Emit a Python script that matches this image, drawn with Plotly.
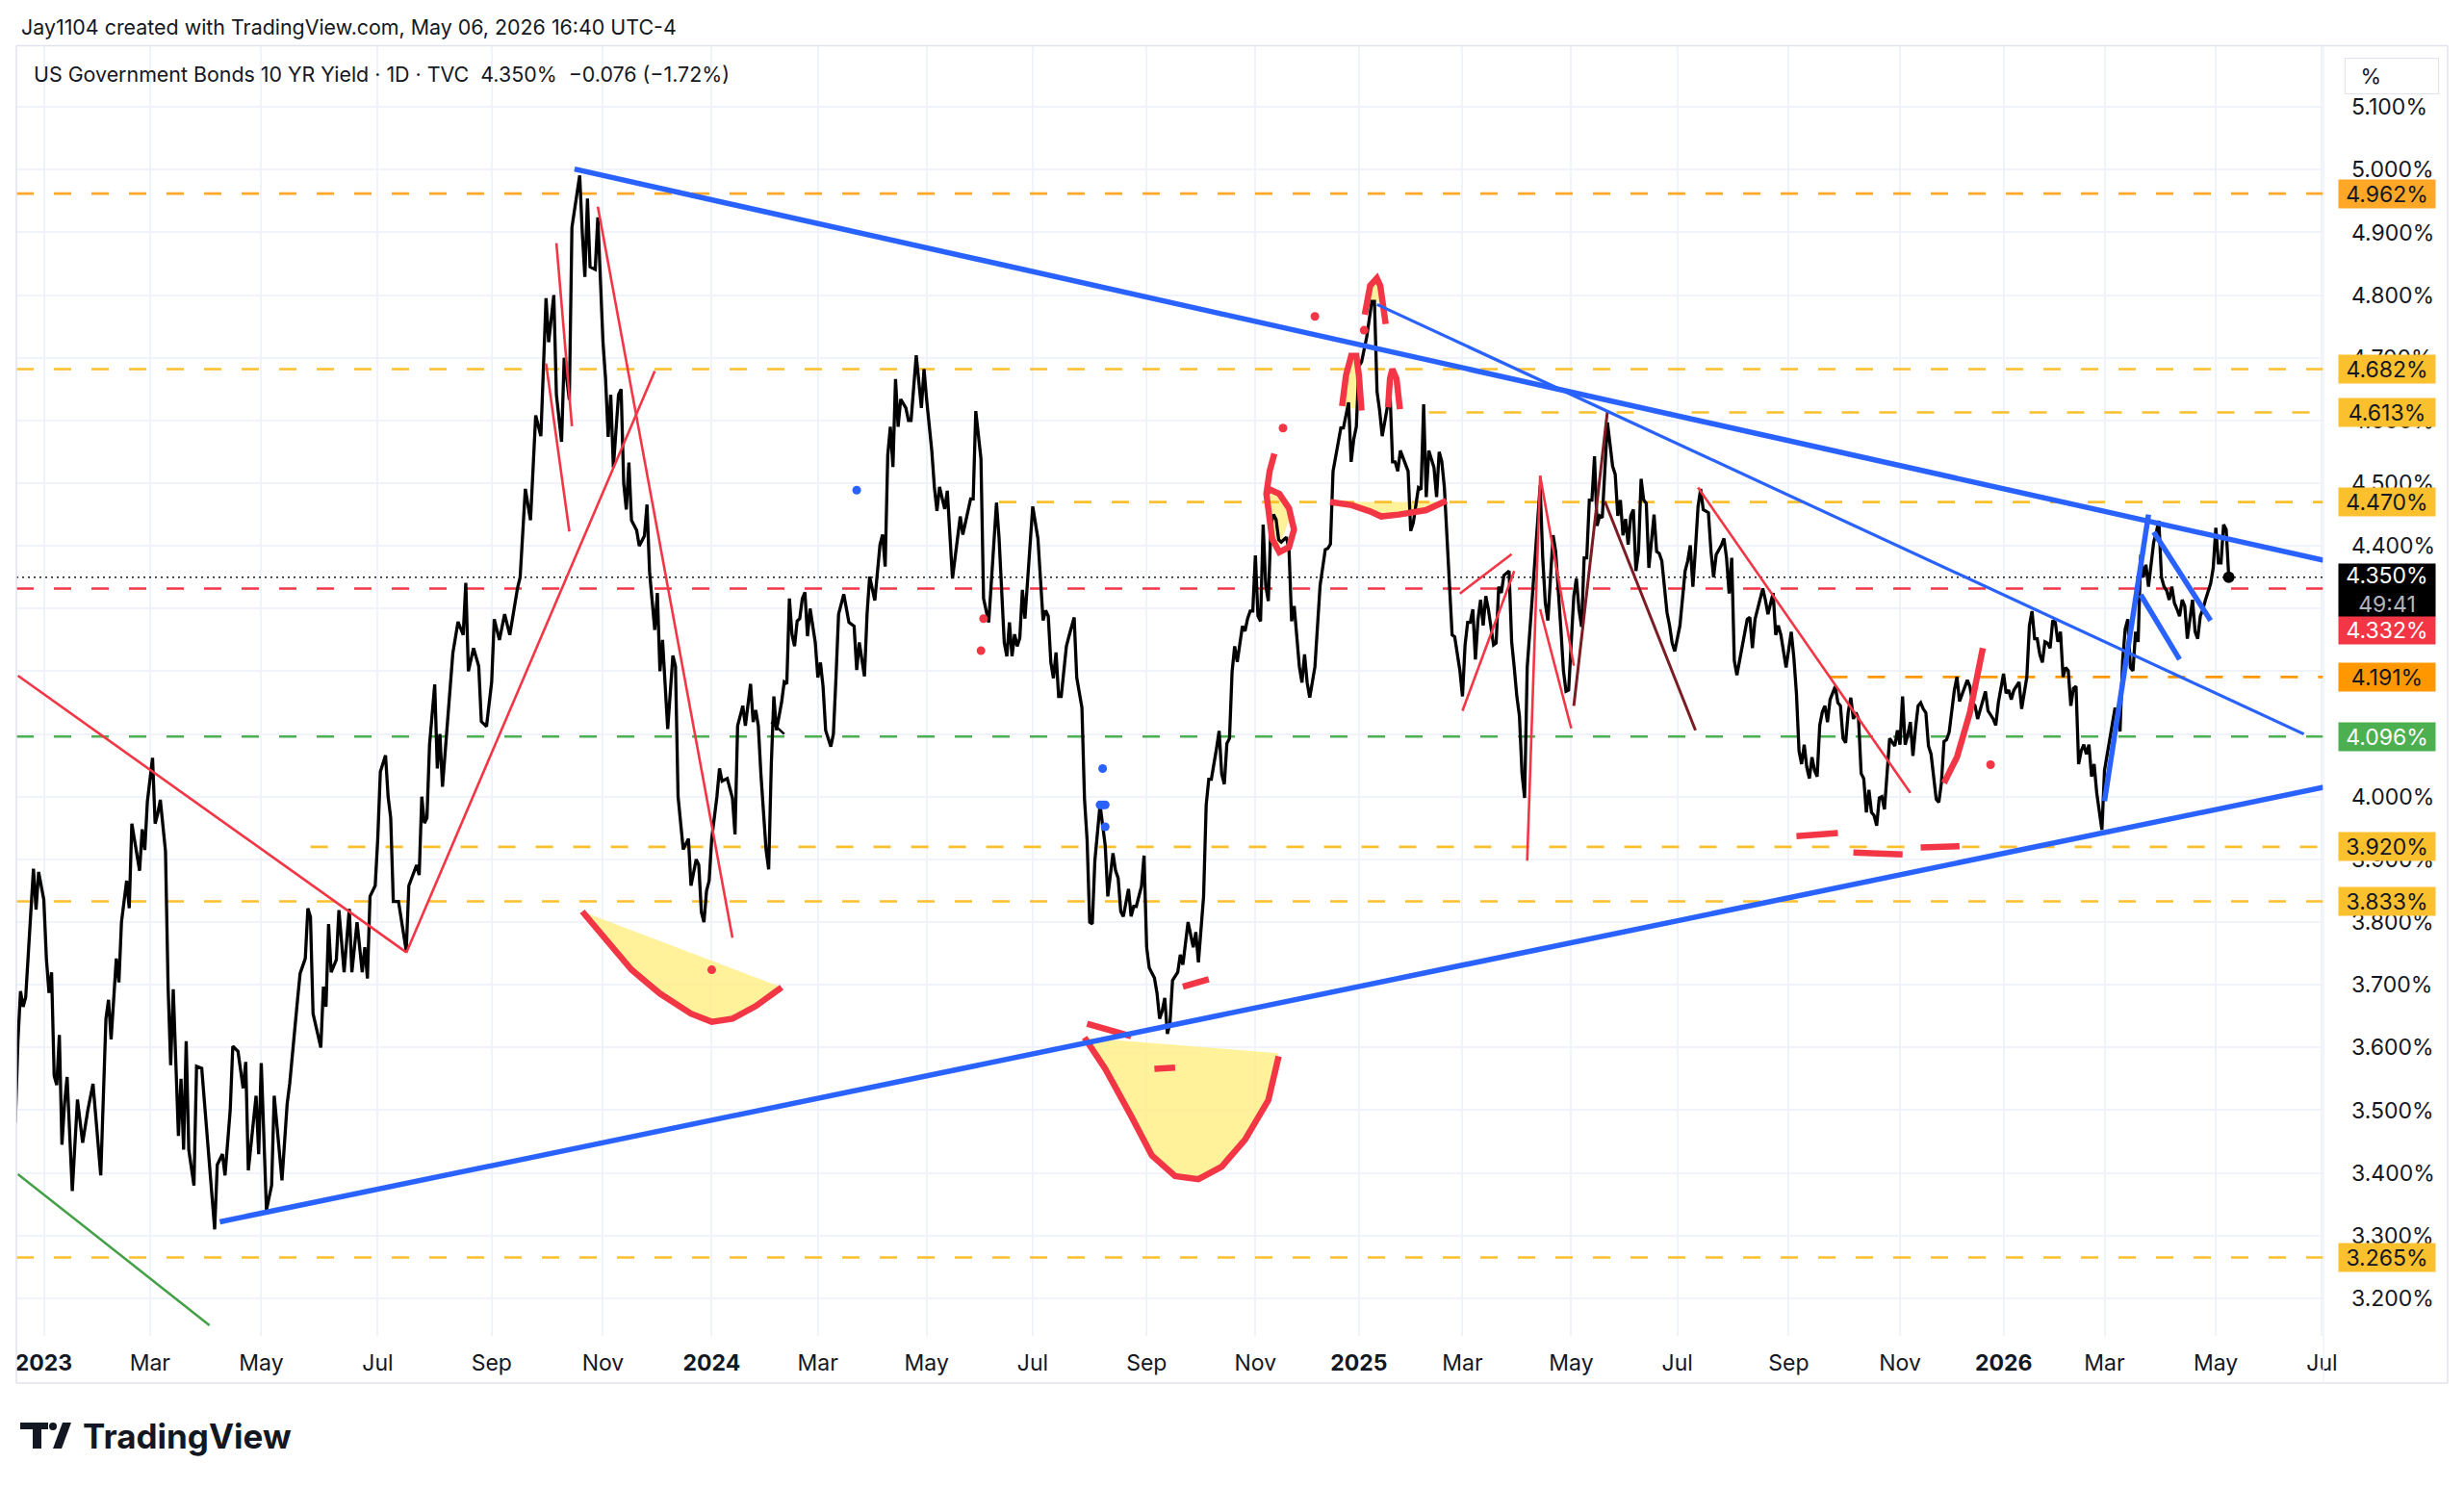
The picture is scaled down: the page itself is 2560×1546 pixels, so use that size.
import datetime as dt
import plotly.graph_objects as go

# ---------------- series: US 10Y yield, daily close ----------------
dates_a = ["2022-12-15","2022-12-16","2022-12-19","2022-12-20","2022-12-21","2022-12-27","2022-12-28","2022-12-29",
 "2023-01-02","2023-01-03","2023-01-04","2023-01-05","2023-01-07","2023-01-08","2023-01-09","2023-01-12","2023-01-13",
 "2023-01-16","2023-01-18","2023-01-21","2023-01-24","2023-01-26","2023-01-29","2023-02-02","2023-02-05","2023-02-06",
 "2023-02-07","2023-02-09","2023-02-10","2023-02-12","2023-02-14","2023-02-16","2023-02-17","2023-02-20","2023-02-23",
 "2023-02-24","2023-02-26","2023-02-28","2023-03-02","2023-03-04","2023-03-05","2023-03-07","2023-03-09","2023-03-11",
 "2023-03-12","2023-03-13","2023-03-14","2023-03-16","2023-03-17","2023-03-18","2023-03-20","2023-03-22","2023-03-24",
 "2023-03-27","2023-03-29","2023-04-02","2023-04-05","2023-04-06","2023-04-09","2023-04-11","2023-04-13","2023-04-15",
 "2023-04-18","2023-04-20","2023-04-21","2023-04-24","2023-04-27","2023-04-28","2023-04-30","2023-05-03","2023-05-05",
 "2023-05-08","2023-05-11","2023-05-14","2023-05-16","2023-05-19","2023-05-22","2023-05-24","2023-05-25","2023-05-27",
 "2023-05-29","2023-06-01","2023-06-02","2023-06-05","2023-06-06","2023-06-07","2023-06-10","2023-06-12","2023-06-14",
 "2023-06-17","2023-06-18","2023-06-21","2023-06-23","2023-06-26","2023-06-27","2023-06-28"]
yield_a = [3.48,3.61,3.69,3.665,3.68,3.885,3.82,3.88,
 3.836,3.742,3.687,3.72,3.555,3.54,3.62,3.445,3.51,
 3.553,3.371,3.517,3.448,3.50,3.542,3.396,3.646,3.676,
 3.613,3.676,3.742,3.704,3.80,3.866,3.822,3.957,3.882,
 3.948,3.915,3.992,4.062,3.957,3.973,3.995,3.913,3.698,
 3.572,3.693,3.577,3.459,3.55,3.437,3.61,3.437,3.38,
 3.57,3.567,3.418,3.31,3.413,3.43,3.396,3.50,3.602,
 3.594,3.535,3.577,3.404,3.523,3.43,3.575,3.341,3.38,
 3.523,3.388,3.51,3.543,3.676,3.718,3.742,3.822,3.808,
 3.654,3.60,3.697,3.665,3.797,3.72,3.74,3.819,3.72,
 3.821,3.72,3.80,3.72,3.76,3.71,3.841]

dates_b = ["2023-07-01","2023-07-02","2023-07-04","2023-07-06","2023-07-07","2023-07-10","2023-07-11","2023-07-13",
 "2023-07-15","2023-07-18","2023-07-19","2023-07-21","2023-07-23","2023-07-25","2023-07-26","2023-07-27","2023-07-29",
 "2023-07-31","2023-08-02","2023-08-03","2023-08-05","2023-08-07","2023-08-10","2023-08-12","2023-08-15","2023-08-17",
 "2023-08-19","2023-08-21","2023-08-23","2023-08-26","2023-08-28","2023-08-30","2023-09-01","2023-09-04","2023-09-06",
 "2023-09-09","2023-09-12","2023-09-14","2023-09-16","2023-09-17","2023-09-19","2023-09-20","2023-09-22","2023-09-24",
 "2023-09-26","2023-09-28","2023-09-30","2023-10-02","2023-10-03","2023-10-05","2023-10-07","2023-10-10","2023-10-11",
 "2023-10-13","2023-10-16","2023-10-19","2023-10-20","2023-10-22","2023-10-24","2023-10-25","2023-10-27","2023-10-30",
 "2023-11-01","2023-11-02","2023-11-03","2023-11-05","2023-11-07","2023-11-09","2023-11-11","2023-11-13","2023-11-14",
 "2023-11-15","2023-11-16","2023-11-19","2023-11-21","2023-11-23","2023-11-25","2023-11-27","2023-11-29","2023-11-30",
 "2023-12-01","2023-12-03","2023-12-06","2023-12-08","2023-12-11","2023-12-12","2023-12-14","2023-12-17","2023-12-19",
 "2023-12-21","2023-12-23","2023-12-25","2023-12-26","2023-12-28","2023-12-29","2024-01-02","2024-01-04","2024-01-06",
 "2024-01-08","2024-01-10"]
yield_b = [3.858,3.933,4.04,4.066,4.0,3.966,3.833,3.833,
 3.808,3.754,3.858,3.879,3.891,3.875,4.0,3.958,3.966,
 4.083,4.179,4.045,4.1,4.016,4.166,4.229,4.279,4.258,
 4.341,4.2,4.237,4.208,4.12,4.112,4.183,4.283,4.25,
 4.291,4.258,4.308,4.333,4.35,4.425,4.491,4.441,4.533,
 4.608,4.575,4.683,4.795,4.725,4.80,4.641,4.566,4.70,
 4.633,4.908,4.991,4.9,4.829,4.954,4.845,4.841,4.924,
 4.725,4.666,4.574,4.641,4.525,4.641,4.65,4.5,4.458,
 4.533,4.441,4.425,4.4,4.416,4.466,4.358,4.266,4.325,
 4.2,4.25,4.108,4.225,4.208,4.0,3.916,3.933,3.858,
 3.9,3.891,3.816,3.80,3.85,3.866,3.933,4.0,4.045,
 4.025,4.029]

dates_c = ["2024-01-12","2024-01-14","2024-01-17","2024-01-19","2024-01-21","2024-01-24","2024-01-25","2024-01-27",
 "2024-01-28","2024-01-30","2024-02-01","2024-02-02","2024-02-04","2024-02-05","2024-02-07","2024-02-09","2024-02-11",
 "2024-02-12","2024-02-14","2024-02-15","2024-02-17","2024-02-18","2024-02-20","2024-02-21","2024-02-23","2024-02-24",
 "2024-02-26","2024-02-29","2024-03-01","2024-03-02","2024-03-04","2024-03-05","2024-03-08","2024-03-10","2024-03-12",
 "2024-03-13","2024-03-16","2024-03-19","2024-03-21","2024-03-22","2024-03-24","2024-03-27","2024-03-30","2024-04-01",
 "2024-04-03","2024-04-05","2024-04-06","2024-04-08","2024-04-09","2024-04-11","2024-04-12","2024-04-14","2024-04-15",
 "2024-04-17","2024-04-19","2024-04-21","2024-04-22","2024-04-25","2024-04-28","2024-04-29","2024-05-01","2024-05-03",
 "2024-05-05","2024-05-07","2024-05-08","2024-05-10","2024-05-13","2024-05-15","2024-05-20","2024-05-21","2024-05-24",
 "2024-05-26","2024-05-28","2024-05-31","2024-06-03","2024-06-05","2024-06-09","2024-06-11","2024-06-13","2024-06-14",
 "2024-06-15","2024-06-17","2024-06-19","2024-06-21","2024-06-24","2024-06-25","2024-06-26","2024-06-28","2024-07-01",
 "2024-07-03","2024-07-04","2024-07-05","2024-07-07","2024-07-09","2024-07-11","2024-07-12","2024-07-14","2024-07-16",
 "2024-07-17","2024-07-19","2024-07-22","2024-07-24"]
yield_c = [3.998,3.94,4.113,4.145,4.113,4.18,4.119,4.138,
 4.113,4.036,3.915,3.884,4.05,4.16,4.106,4.151,4.183,
 4.18,4.316,4.259,4.24,4.28,4.284,4.316,4.326,4.256,
 4.30,4.246,4.19,4.214,4.176,4.106,4.08,4.10,4.19,
 4.291,4.323,4.278,4.272,4.202,4.246,4.192,4.291,4.351,
 4.313,4.402,4.418,4.367,4.545,4.59,4.526,4.666,4.59,
 4.634,4.62,4.60,4.60,4.704,4.62,4.682,4.634,4.552,
 4.494,4.456,4.494,4.459,4.488,4.348,4.447,4.418,4.475,
 4.475,4.615,4.539,4.316,4.278,4.469,4.412,4.246,4.224,
 4.278,4.224,4.259,4.24,4.253,4.33,4.284,4.408,4.463,
 4.412,4.335,4.281,4.297,4.288,4.214,4.189,4.23,4.16,
 4.16,4.24,4.256,4.286]

dates_d = ["2024-07-25","2024-07-28","2024-07-30","2024-07-31","2024-08-01","2024-08-03","2024-08-04","2024-08-07",
 "2024-08-09","2024-08-12","2024-08-14","2024-08-15","2024-08-17","2024-08-18","2024-08-20","2024-08-22","2024-08-23",
 "2024-08-25","2024-08-27","2024-08-29","2024-08-31","2024-09-01","2024-09-04","2024-09-06","2024-09-07","2024-09-08",
 "2024-09-10","2024-09-12","2024-09-14","2024-09-16","2024-09-17","2024-09-19","2024-09-21","2024-09-23","2024-09-25",
 "2024-09-27","2024-09-29","2024-10-01","2024-10-03","2024-10-04","2024-10-06","2024-10-08","2024-10-10","2024-10-11",
 "2024-10-13","2024-10-15","2024-10-17","2024-10-19","2024-10-20","2024-10-22","2024-10-23","2024-10-25","2024-10-27",
 "2024-10-28","2024-10-29","2024-10-30","2024-11-01","2024-11-03","2024-11-04","2024-11-05","2024-11-07","2024-11-08",
 "2024-11-10","2024-11-11","2024-11-13","2024-11-16","2024-11-18","2024-11-20","2024-11-21","2024-11-23","2024-11-24",
 "2024-11-27","2024-11-28","2024-11-30","2024-12-02","2024-12-04","2024-12-06","2024-12-09","2024-12-10","2024-12-12",
 "2024-12-14","2024-12-16","2024-12-17","2024-12-19","2024-12-21","2024-12-22","2024-12-25","2024-12-27","2024-12-29",
 "2024-12-31","2025-01-02","2025-01-04","2025-01-07","2025-01-09","2025-01-11","2025-01-12","2025-01-13","2025-01-15",
 "2025-01-17","2025-01-19","2025-01-21","2025-01-23","2025-01-25","2025-01-27","2025-01-30","2025-02-01","2025-02-02",
 "2025-02-05","2025-02-06","2025-02-07","2025-02-10","2025-02-11"]
yield_d = [4.19,4.142,3.996,3.931,3.80,3.797,3.898,3.987,
 3.922,3.841,3.91,3.882,3.87,3.817,3.809,3.853,3.809,
 3.825,3.825,3.857,3.906,3.76,3.727,3.711,3.687,3.646,
 3.658,3.679,3.622,3.638,3.707,3.72,3.748,3.732,3.80,
 3.76,3.784,3.736,3.841,3.987,4.028,4.028,4.077,4.105,
 4.036,4.02,4.085,4.093,4.199,4.24,4.215,4.272,4.264,
 4.284,4.296,4.296,4.385,4.288,4.28,4.434,4.337,4.312,
 4.434,4.45,4.442,4.41,4.406,4.414,4.394,4.28,4.304,
 4.207,4.182,4.227,4.182,4.158,4.207,4.272,4.337,4.394,
 4.396,4.403,4.519,4.565,4.588,4.588,4.629,4.534,4.57,
 4.59,4.687,4.693,4.733,4.79,4.79,4.646,4.616,4.575,
 4.621,4.646,4.534,4.534,4.519,4.552,4.519,4.424,4.437,
 4.493,4.49,4.626,4.478,4.552]

dates_e = ["2025-02-13","2025-02-14","2025-02-15","2025-02-17","2025-02-19","2025-02-21","2025-02-22","2025-02-24",
 "2025-02-26","2025-02-28","2025-03-01","2025-03-02","2025-03-04","2025-03-05","2025-03-06","2025-03-07","2025-03-09",
 "2025-03-10","2025-03-12","2025-03-13","2025-03-15","2025-03-17","2025-03-19","2025-03-20","2025-03-22","2025-03-23",
 "2025-03-25","2025-03-27","2025-03-28","2025-03-30","2025-03-31","2025-04-02","2025-04-03","2025-04-05","2025-04-07",
 "2025-04-09","2025-04-11","2025-04-12","2025-04-14","2025-04-16","2025-04-17","2025-04-19","2025-04-20","2025-04-22",
 "2025-04-24","2025-04-26","2025-04-27","2025-04-29","2025-04-30","2025-05-01","2025-05-02","2025-05-04","2025-05-05",
 "2025-05-07","2025-05-08","2025-05-09","2025-05-10","2025-05-12","2025-05-14","2025-05-15","2025-05-17","2025-05-18",
 "2025-05-19","2025-05-21","2025-05-23","2025-05-24","2025-05-25","2025-05-27","2025-05-28","2025-05-29","2025-05-31",
 "2025-06-01","2025-06-02","2025-06-04","2025-06-05","2025-06-06","2025-06-08","2025-06-10","2025-06-11","2025-06-13",
 "2025-06-15","2025-06-17","2025-06-18","2025-06-20","2025-06-22","2025-06-24","2025-06-26","2025-06-27","2025-06-29",
 "2025-07-02","2025-07-04","2025-07-05","2025-07-07","2025-07-09","2025-07-11","2025-07-13","2025-07-15","2025-07-16",
 "2025-07-18","2025-07-20","2025-07-21","2025-07-23","2025-07-25","2025-07-27","2025-07-28","2025-07-29","2025-07-31",
 "2025-08-01","2025-08-03","2025-08-05","2025-08-07","2025-08-09","2025-08-11","2025-08-12","2025-08-13","2025-08-15",
 "2025-08-17","2025-08-19","2025-08-20","2025-08-22","2025-08-23","2025-08-25","2025-08-27","2025-08-29","2025-08-31",
 "2025-09-01","2025-09-02","2025-09-04","2025-09-05","2025-09-07","2025-09-08","2025-09-10","2025-09-11","2025-09-13",
 "2025-09-14","2025-09-16","2025-09-17","2025-09-19","2025-09-21","2025-09-22","2025-09-24","2025-09-26","2025-09-28",
 "2025-09-29","2025-10-01","2025-10-02","2025-10-04","2025-10-05","2025-10-06"]
yield_e = [4.525,4.478,4.55,4.535,4.494,4.412,4.35,4.258,
 4.255,4.201,4.16,4.242,4.278,4.278,4.299,4.219,4.283,
 4.314,4.273,4.32,4.299,4.268,4.242,4.245,4.335,4.325,
 4.353,4.36,4.247,4.206,4.16,4.129,4.037,3.998,4.206,
 4.32,4.427,4.496,4.381,4.309,4.281,4.36,4.417,4.391,
 4.32,4.268,4.201,4.168,4.17,4.258,4.32,4.348,4.299,
 4.271,4.381,4.381,4.473,4.473,4.543,4.432,4.448,4.445,
 4.52,4.597,4.527,4.514,4.448,4.473,4.417,4.443,4.402,
 4.448,4.458,4.36,4.391,4.507,4.473,4.468,4.365,4.412,
 4.45,4.391,4.388,4.376,4.33,4.294,4.273,4.245,4.232,
 4.273,4.36,4.376,4.401,4.335,4.396,4.463,4.491,4.458,
 4.453,4.391,4.35,4.386,4.401,4.412,4.381,4.324,4.381,
 4.217,4.194,4.217,4.258,4.283,4.286,4.237,4.283,4.314,
 4.332,4.314,4.291,4.325,4.258,4.273,4.258,4.206,4.237,
 4.263,4.222,4.165,4.073,4.052,4.083,4.047,4.029,4.063,
 4.042,4.032,4.114,4.135,4.145,4.119,4.155,4.176,4.15,
 4.145,4.093,4.086,4.135,4.158,4.124]

dates_f = ["2025-10-07","2025-10-09","2025-10-10","2025-10-12","2025-10-13","2025-10-14","2025-10-16","2025-10-17",
 "2025-10-19","2025-10-21","2025-10-23","2025-10-24","2025-10-26","2025-10-28","2025-10-30","2025-10-31","2025-11-02",
 "2025-11-03","2025-11-05","2025-11-06","2025-11-07","2025-11-09","2025-11-10","2025-11-12","2025-11-14","2025-11-15",
 "2025-11-17","2025-11-18","2025-11-20","2025-11-21","2025-11-24","2025-11-25","2025-11-26","2025-11-28","2025-11-30",
 "2025-12-01","2025-12-03","2025-12-04","2025-12-06","2025-12-08","2025-12-11","2025-12-13","2025-12-14","2025-12-16",
 "2025-12-17","2025-12-19","2025-12-21","2025-12-23","2025-12-25","2025-12-27","2025-12-28","2026-01-01","2026-01-02",
 "2026-01-03","2026-01-05","2026-01-07","2026-01-09","2026-01-11","2026-01-12","2026-01-13","2026-01-15","2026-01-16",
 "2026-01-18","2026-01-19","2026-01-21","2026-01-22","2026-01-23","2026-01-25","2026-01-27","2026-01-29","2026-01-30",
 "2026-01-31","2026-02-02","2026-02-03","2026-02-05","2026-02-06","2026-02-07","2026-02-09","2026-02-10","2026-02-12",
 "2026-02-13","2026-02-15","2026-02-16","2026-02-18","2026-02-19","2026-02-21","2026-02-23","2026-02-25","2026-02-27",
 "2026-03-02","2026-03-04","2026-03-06","2026-03-08","2026-03-09","2026-03-11","2026-03-12","2026-03-14","2026-03-15",
 "2026-03-17","2026-03-18","2026-03-19","2026-03-21","2026-03-23","2026-03-24","2026-03-25","2026-03-27","2026-03-28",
 "2026-03-29","2026-03-31","2026-04-01","2026-04-02","2026-04-04","2026-04-05","2026-04-06","2026-04-08","2026-04-10",
 "2026-04-11","2026-04-12","2026-04-14","2026-04-15","2026-04-17","2026-04-18","2026-04-19","2026-04-21","2026-04-22",
 "2026-04-24","2026-04-25","2026-04-27","2026-04-28","2026-04-29","2026-04-30","2026-05-01","2026-05-04","2026-05-05",
 "2026-05-06"]
yield_f = [4.134,4.124,4.037,4.029,3.975,4.011,3.975,3.970,
 3.954,3.998,4.0,3.98,4.042,4.093,4.081,4.106,4.083,
 4.16,4.083,4.098,4.119,4.065,4.109,4.145,4.15,4.14,
 4.134,4.081,4.068,4.032,3.996,3.991,4.022,4.088,4.091,
 4.103,4.14,4.17,4.191,4.152,4.186,4.176,4.15,4.145,
 4.124,4.155,4.168,4.137,4.124,4.114,4.15,4.196,4.165,
 4.17,4.155,4.17,4.176,4.183,4.14,4.165,4.191,4.273,
 4.296,4.252,4.252,4.227,4.214,4.247,4.245,4.237,4.281,
 4.278,4.247,4.263,4.191,4.206,4.201,4.145,4.173,4.176,
 4.052,4.073,4.083,4.068,4.083,4.032,4.052,4.006,3.947,
 4.042,4.093,4.14,4.14,4.104,4.217,4.268,4.283,4.206,
 4.201,4.263,4.247,4.386,4.35,4.37,4.335,4.406,4.422,
 4.44,4.35,4.335,4.329,4.314,4.335,4.309,4.299,4.288,
 4.314,4.304,4.252,4.283,4.314,4.263,4.252,4.288,4.299,
 4.314,4.327,4.34,4.365,4.429,4.373,4.373,4.434,4.426,
 4.350]

# days without a bar in the feed (the chart's time scale skips them)
no_bar_days = ["2022-12-26","2023-01-02","2023-12-25",
 "2024-01-01","2024-01-15","2024-02-19","2024-03-29","2024-05-27","2024-06-19","2024-07-04","2024-09-02",
 "2024-10-14","2024-11-11","2024-11-28","2024-12-25",
 "2025-01-01","2025-01-20","2025-02-17","2025-04-18","2025-05-26","2025-06-19","2025-07-04","2025-09-01",
 "2025-10-13","2025-11-11","2025-11-27","2025-12-25",
 "2026-01-01","2026-01-19","2026-02-16","2026-04-03","2026-05-25","2026-06-19"]

# ---------------- axis ticks (first bar of every second month) ----------------
x_tick_dates = ["2023-01-03","2023-03-01","2023-05-01","2023-07-03","2023-09-01","2023-11-01",
                "2024-01-02","2024-03-01","2024-05-01","2024-07-01","2024-09-03","2024-11-01",
                "2025-01-02","2025-03-03","2025-05-01","2025-07-01","2025-09-02","2025-11-03",
                "2026-01-02","2026-03-02","2026-05-01","2026-07-01"]
x_tick_labels = ["<b>2023</b>","Mar","May","Jul","Sep","Nov","<b>2024</b>","Mar","May","Jul","Sep","Nov",
                 "<b>2025</b>","Mar","May","Jul","Sep","Nov","<b>2026</b>","Mar","May","Jul"]
y_tick_values = [3.2,3.3,3.4,3.5,3.6,3.7,3.8,3.9,4.0,4.1,4.2,4.3,4.4,4.5,4.6,4.7,4.8,4.9,5.0,5.1]
y_tick_labels = ["" if v in (4.1, 4.2, 4.3) else "%.3f%%" % v for v in y_tick_values]

X_START, X_END = "2022-12-15 09:30", "2026-07-01 14:00"
Y_MIN, Y_MAX = 3.140, 5.197

# ---------------- horizontal levels ----------------
level_values = [4.962, 4.682, 4.613, 4.470, 4.332, 4.191, 4.096, 3.920, 3.833, 3.265]
level_starts = [X_START, X_START, "2025-02-11", "2024-06-11", X_START, "2025-09-24", X_START, "2023-05-26", X_START, X_START]
level_colors = ["#FFA726", "#FBC02D", "#FBC02D", "#FBC02D", "#F23645", "#FF9800", "#4CAF50", "#FBC02D", "#FBC02D", "#FBC02D"]
level_text_colors = ["#131722"]*4 + ["#FFFFFF", "#131722", "#FFFFFF"] + ["#131722"]*3
last_price = 4.350

# ---------------- drawings (date, value) ----------------
blue_thick = [
    [("2023-10-17", 5.001), (X_END, 4.377)],
    [("2023-04-07", 3.322), (X_END, 4.015)],
    [("2026-03-02", 3.993), ("2026-03-25", 4.450)],
    [("2026-03-20", 4.322), ("2026-04-13", 4.219)],
    [("2026-03-27", 4.422), ("2026-04-29", 4.281)],
]
blue_thin = [[("2025-01-13", 4.785), ("2026-06-22", 4.100)]]
red_thin = [
    [("2022-12-16", 4.193), ("2023-07-18", 3.752)],
    [("2023-07-18", 3.751), ("2023-11-29", 4.679)],
    [("2023-10-06", 4.883), ("2023-10-16", 4.591)],
    [("2023-10-02", 4.691), ("2023-10-13", 4.423)],
    [("2023-10-30", 4.941), ("2024-01-12", 3.775)],
    [("2025-02-28", 4.324), ("2025-03-28", 4.387)],
    [("2025-03-03", 4.137), ("2025-03-31", 4.360)],
    [("2025-04-07", 3.898), ("2025-04-14", 4.512)],
    [("2025-04-14", 4.512), ("2025-05-02", 4.209)],
    [("2025-04-14", 4.299), ("2025-05-01", 4.109)],
    [("2025-07-14", 4.493), ("2025-11-07", 4.006)],
]
maroon_thin = [
    [("2025-05-02", 4.145), ("2025-05-21", 4.615)],
    [("2025-05-20", 4.471), ("2025-07-11", 4.106)],
]
green_thin = [[("2022-12-16", 3.398), ("2023-04-03", 3.157)]]
black_thin = [[("2024-02-05", 4.119), ("2024-02-12", 4.100)]]
red_thick = [
    [("2023-10-20", 3.817), ("2023-11-03", 3.767), ("2023-11-16", 3.724), ("2023-12-01", 3.686), ("2023-12-19", 3.654),
     ("2024-01-02", 3.641), ("2024-01-12", 3.646), ("2024-01-26", 3.666), ("2024-02-09", 3.696)],
    [("2024-07-30", 3.616), ("2024-08-09", 3.566), ("2024-08-23", 3.491), ("2024-09-05", 3.428), ("2024-09-18", 3.395),
     ("2024-10-01", 3.390), ("2024-10-15", 3.410), ("2024-10-28", 3.453), ("2024-11-08", 3.516), ("2024-11-15", 3.586)],
    [("2024-07-31", 3.638), ("2024-08-23", 3.618)],
    [("2024-09-06", 3.566), ("2024-09-18", 3.568)],
    [("2024-09-23", 3.697), ("2024-10-07", 3.709)],
    [("2024-11-13 08:00", 4.547), ("2024-11-08 12:00", 4.519), ("2024-11-07 06:00", 4.483), ("2024-11-08 06:00", 4.447),
     ("2024-11-11 12:00", 4.411), ("2024-11-15 06:00", 4.390), ("2024-11-21", 4.398), ("2024-11-22 22:00", 4.426),
     ("2024-11-21", 4.460), ("2024-11-15 06:00", 4.483), ("2024-11-08 14:00", 4.490), ("2024-11-07 03:00", 4.483)],
    [("2024-12-20 12:00", 4.623), ("2024-12-24", 4.672), ("2024-12-27", 4.703), ("2024-12-31", 4.703),
     ("2025-01-02", 4.672), ("2025-01-03", 4.616)],
    [("2025-01-06 06:00", 4.769), ("2025-01-08 08:00", 4.815), ("2025-01-10 22:00", 4.827), ("2025-01-14 06:00", 4.815),
     ("2025-01-16 08:00", 4.754)],
    [("2025-01-17 06:00", 4.621), ("2025-01-21", 4.667), ("2025-01-21 22:00", 4.682), ("2025-01-23 12:00", 4.667),
     ("2025-01-24 20:00", 4.618)],
    [("2024-12-13 20:00", 4.470), ("2024-12-27 06:00", 4.465), ("2025-01-08 08:00", 4.455), ("2025-01-14 14:00", 4.447),
     ("2025-01-24 10:00", 4.450), ("2025-02-07 22:00", 4.457), ("2025-02-20 20:00", 4.472)],
    [("2025-11-28", 4.022), ("2025-12-05", 4.063), ("2025-12-12", 4.134), ("2025-12-19", 4.237)],
    [("2025-09-05", 3.937), ("2025-09-29", 3.942)],
    [("2025-10-07", 3.911), ("2025-11-04", 3.908)],
    [("2025-11-14", 3.919), ("2025-12-08", 3.921)],
]
yellow_fills = [
    [("2023-10-20", 3.817), ("2023-11-03", 3.767), ("2023-11-16", 3.724), ("2023-12-01", 3.686), ("2023-12-19", 3.654),
     ("2024-01-02", 3.641), ("2024-01-12", 3.646), ("2024-01-26", 3.666), ("2024-02-09", 3.696)],
    [("2024-07-30", 3.616), ("2024-08-09", 3.566), ("2024-08-23", 3.491), ("2024-09-05", 3.428), ("2024-09-18", 3.395),
     ("2024-10-01", 3.390), ("2024-10-15", 3.410), ("2024-10-28", 3.453), ("2024-11-08", 3.516), ("2024-11-15", 3.591)],
    [("2024-11-07 06:00", 4.483), ("2024-11-08 06:00", 4.447), ("2024-11-11 12:00", 4.411), ("2024-11-15 06:00", 4.400),
     ("2024-11-21", 4.440), ("2024-11-21", 4.460), ("2024-11-15 06:00", 4.483), ("2024-11-08 14:00", 4.490)],
    [("2024-12-20 12:00", 4.623), ("2024-12-24", 4.672), ("2024-12-27", 4.703), ("2024-12-31", 4.703),
     ("2025-01-02", 4.672), ("2025-01-03", 4.616)],
    [("2025-01-07 06:00", 4.790), ("2025-01-08 08:00", 4.815), ("2025-01-10 22:00", 4.827), ("2025-01-14 06:00", 4.815),
     ("2025-01-15 12:00", 4.790)],
    [("2024-12-27 06:00", 4.470), ("2025-01-08 08:00", 4.455), ("2025-01-14 14:00", 4.447), ("2025-01-24 10:00", 4.450),
     ("2025-02-07 22:00", 4.457), ("2025-02-18", 4.470)],
]
red_dots = [("2024-05-31", 4.233), ("2024-06-03", 4.284), ("2024-11-18 16:00", 4.588), ("2024-12-06", 4.766),
            ("2025-01-06", 4.744), ("2025-12-24", 4.051), ("2024-01-02", 3.724)]
blue_dots = [("2024-03-22", 4.489), ("2024-08-08", 4.045), ("2024-08-07", 3.987), ("2024-08-08", 3.987),
             ("2024-08-09", 3.987), ("2024-08-09", 3.952)]

# ---------------- time-scale helpers (map a reading onto a day that has a bar) ----------------
OFF = set(no_bar_days)


def _parse(s):
    return dt.datetime.fromisoformat(s)


def _off(d):
    return d.weekday() >= 5 or d.strftime("%Y-%m-%d") in OFF


def on_bar(s):
    d = _parse(s)
    step = dt.timedelta(days=-1 if d.weekday() == 5 else 1)
    while _off(d):
        d += step
    return d


def fmt(d):
    return d.strftime("%Y-%m-%d %H:%M")


def series_on_bars(ds):
    out, prev = [], None
    for s in ds:
        d = on_bar(s)
        if prev is not None and d.date() <= prev.date():
            d = prev + dt.timedelta(days=1)
            while _off(d):
                d += dt.timedelta(days=1)
        out.append(d)
        prev = d
    return [fmt(d) for d in out]


# ---------------- geometry (pixels) ----------------
W, H = 2560, 1546
PL, PR, PT, PB = 17, 2414, 48, 1388


def pxx(px):
    return (px - PL) / (PR - PL)


def pxy(py):
    return (PB - py) / (PB - PT)


FONT = "Inter, Roboto, sans-serif"
TXT = "#131722"

fig = go.Figure()


def add_poly(pts, color, width, fill=None, dash=None):
    xs = [fmt(on_bar(p[0])) for p in pts]
    ys = [p[1] for p in pts]
    if fill:
        fig.add_trace(go.Scatter(x=xs, y=ys, mode="lines", fill="toself", fillcolor=fill,
                                 line=dict(width=0, color=fill), hoverinfo="skip", showlegend=False))
    else:
        fig.add_trace(go.Scatter(x=xs, y=ys, mode="lines", line=dict(color=color, width=width, dash=dash),
                                 hoverinfo="skip", showlegend=False))


for poly in yellow_fills:
    add_poly(poly, None, 0, fill="rgba(255,238,120,0.75)")

for v, s, c in zip(level_values, level_starts, level_colors):
    add_poly([(s, v), (X_END, v)], c, 2.6, dash="18px,21px")
add_poly([(X_START, last_price), (X_END, last_price)], "#131722", 1.6, dash="2px,4px")

all_dates = series_on_bars(dates_a + dates_b + dates_c + dates_d + dates_e + dates_f)
all_yield = yield_a + yield_b + yield_c + yield_d + yield_e + yield_f
fig.add_trace(go.Scatter(x=all_dates, y=all_yield, mode="lines", line=dict(color="#000000", width=3.3),
                         showlegend=False, hoverinfo="x+y"))
fig.add_trace(go.Scatter(x=[all_dates[-1]], y=[all_yield[-1]], mode="markers",
                         marker=dict(color="#000000", size=12), showlegend=False))

for seg in green_thin:
    add_poly(seg, "#43A047", 2.5)
for seg in red_thin:
    add_poly(seg, "#F23645", 2.6)
for seg in maroon_thin:
    add_poly(seg, "#7A1C22", 3.0)
for seg in black_thin:
    add_poly(seg, "#000000", 2.5)
for seg in red_thick:
    add_poly(seg, "#F23645", 6.5)
for seg in blue_thin:
    add_poly(seg, "#2962FF", 3.2)
for seg in blue_thick:
    add_poly(seg, "#2962FF", 5.5)
fig.add_trace(go.Scatter(x=[fmt(on_bar(p[0])) for p in red_dots], y=[p[1] for p in red_dots], mode="markers",
                         marker=dict(color="#F23645", size=9), showlegend=False, hoverinfo="skip"))
fig.add_trace(go.Scatter(x=[fmt(on_bar(p[0])) for p in blue_dots], y=[p[1] for p in blue_dots], mode="markers",
                         marker=dict(color="#2962FF", size=9), showlegend=False, hoverinfo="skip"))

annotations = []
for v, c, tc in zip(level_values, level_colors, level_text_colors):
    shift = -43 if abs(v - 4.332) < 1e-6 else 0
    annotations.append(dict(xref="paper", yref="y", x=pxx(2429), y=v, xanchor="left", yanchor="middle",
                            yshift=shift, text="%.3f%%" % v, showarrow=False, bgcolor=c, width=96, height=25,
                            borderpad=2, align="center", font=dict(family=FONT, size=23, color=tc)))
annotations.append(dict(xref="paper", yref="y", x=pxx(2429), y=last_price, xanchor="left", yanchor="top",
                        yshift=15, text="%.3f%%<br><span style='color:#b2b5be'>49:41</span>" % last_price,
                        showarrow=False, bgcolor="#000000", width=96, height=50, borderpad=2, align="center",
                        font=dict(family=FONT, size=23, color="#FFFFFF")))
annotations.append(dict(xref="paper", yref="paper", x=pxx(2436), y=pxy(60), xanchor="left", yanchor="top",
                        text="&nbsp;&nbsp;%", showarrow=False, bgcolor="#FFFFFF", bordercolor="#E0E3EB",
                        borderwidth=1, borderpad=3, width=90, height=30, align="left",
                        font=dict(family=FONT, size=22, color=TXT)))
annotations.append(dict(xref="paper", yref="paper", x=pxx(20), y=pxy(28), xanchor="left", yanchor="middle",
                        text="Jay1104 created with TradingView.com, May 06, 2026 16:40 UTC-4", showarrow=False,
                        font=dict(family=FONT, size=21.4, color=TXT)))
annotations.append(dict(xref="paper", yref="paper", x=pxx(33), y=pxy(77), xanchor="left", yanchor="middle",
                        text="US Government Bonds 10 YR Yield · 1D · TVC&nbsp;&nbsp;4.350%&nbsp;&nbsp;\u22120.076 (\u22121.72%)",
                        showarrow=False, font=dict(family=FONT, size=21.4, color=TXT)))
annotations.append(dict(xref="paper", yref="paper", x=pxx(84), y=pxy(1492), xanchor="left", yanchor="middle",
                        text="<b>TradingView</b>", showarrow=False, font=dict(family=FONT, size=35, color="#131722")))

FR = "#E0E3EB"
shapes = [
    dict(type="line", xref="paper", yref="paper", x0=pxx(17), x1=pxx(2543), y0=pxy(47.5), y1=pxy(47.5), line=dict(color=FR, width=1.5)),
    dict(type="line", xref="paper", yref="paper", x0=pxx(17), x1=pxx(2543), y0=pxy(1437), y1=pxy(1437), line=dict(color=FR, width=1.5)),
    dict(type="line", xref="paper", yref="paper", x0=pxx(17), x1=pxx(17), y0=pxy(47.5), y1=pxy(1437), line=dict(color=FR, width=1.5)),
    dict(type="line", xref="paper", yref="paper", x0=pxx(2543), x1=pxx(2543), y0=pxy(47.5), y1=pxy(1437), line=dict(color=FR, width=1.5)),
    dict(type="line", xref="paper", yref="paper", x0=pxx(2414), x1=pxx(2414), y0=pxy(47.5), y1=pxy(1437), line=dict(color="#F0F3FA", width=1.5)),
    dict(type="rect", xref="paper", yref="paper", x0=pxx(21), x1=pxx(50), y0=pxy(1478), y1=pxy(1485), fillcolor="#131722", line=dict(width=0)),
    dict(type="rect", xref="paper", yref="paper", x0=pxx(34), x1=pxx(43), y0=pxy(1478), y1=pxy(1505), fillcolor="#131722", line=dict(width=0)),
    dict(type="circle", xref="paper", yref="paper", x0=pxx(51), x1=pxx(59), y0=pxy(1478), y1=pxy(1486), fillcolor="#131722", line=dict(width=0)),
    dict(type="path", xref="paper", yref="paper",
         path="M %f %f L %f %f L %f %f L %f %f Z" % (pxx(55), pxy(1505), pxx(64), pxy(1505), pxx(74), pxy(1478), pxx(65), pxy(1478)),
         fillcolor="#131722", line=dict(width=0)),
]

fig.update_layout(
    width=W, height=H, autosize=False,
    margin=dict(l=PL, r=W - PR, t=PT, b=H - PB, pad=0),
    paper_bgcolor="#FFFFFF", plot_bgcolor="#FFFFFF",
    showlegend=False,
    annotations=annotations, shapes=shapes,
    font=dict(family=FONT, color=TXT),
    xaxis=dict(type="date", range=[X_START, X_END], tickvals=x_tick_dates, ticktext=x_tick_labels,
               rangebreaks=[dict(bounds=["sat", "mon"]), dict(values=no_bar_days)],
               showgrid=True, gridcolor="#F0F3FA", gridwidth=1.5, zeroline=False, showline=False, ticks="",
               tickfont=dict(family=FONT, size=23, color=TXT), ticklabelstandoff=12, fixedrange=True),
    yaxis=dict(side="right", range=[Y_MIN, Y_MAX], tickvals=y_tick_values, ticktext=y_tick_labels,
               showgrid=True, gridcolor="#F0F3FA", gridwidth=1.5, zeroline=False, showline=False, ticks="",
               tickfont=dict(family=FONT, size=23, color=TXT), ticklabelstandoff=28, fixedrange=True),
)

fig.write_html("out.html", config={"displayModeBar": False},
               post_script="document.body.style.margin='0px';")
